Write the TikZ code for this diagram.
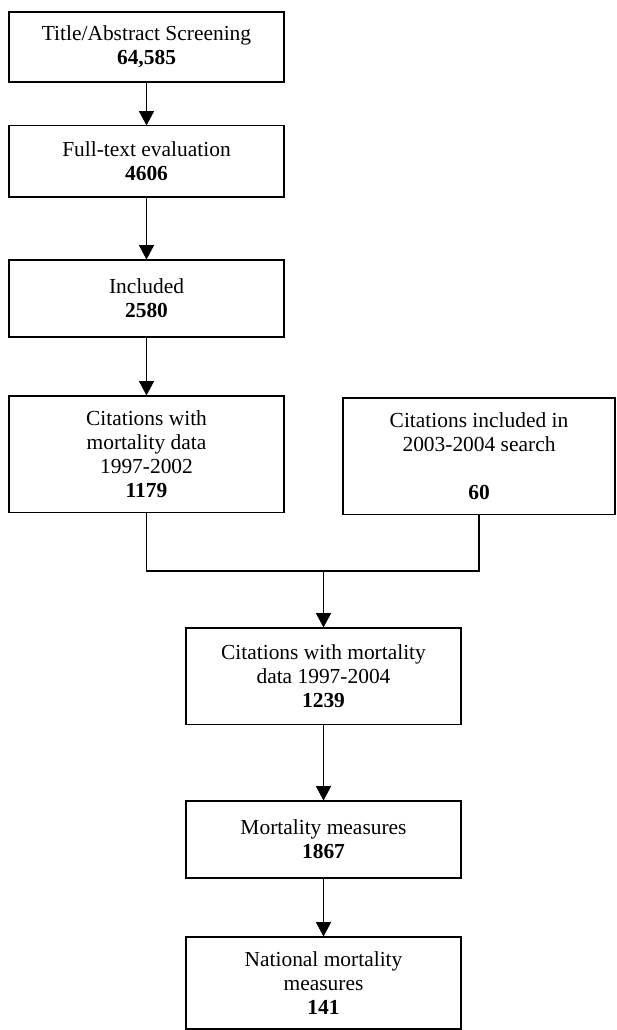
\documentclass[tikz,border=0pt]{standalone}
\usepackage{fontspec}
\setmainfont{Liberation Serif}
\usetikzlibrary{arrows.meta}
\begin{document}
\begin{tikzpicture}[x=0.56pt,y=-0.56pt,
  box/.style={draw=black,line width=0.6pt,align=center,inner sep=0pt,
    font=\fontsize{12}{13.5}\selectfont,minimum width=154pt},
  arr/.style={line width=0.6pt,-{Triangle[width=8.4pt,length=8pt]}},
  link/.style={line width=0.8pt}]
\useasboundingbox (0,0) rectangle (616,1030);
\node[box,minimum height=39.2pt] (b1) at (146.5,47) {Title/Abstract Screening\\\textbf{64,585}};
\node[box,minimum height=39.8pt] (b2) at (146.5,161.5) {Full-text evaluation\\\textbf{4606}};
\node[box,minimum height=43.1pt] (b3) at (146.5,298.5) {Included\\\textbf{2580}};
\node[box,minimum height=65pt] (b4) at (146.5,454) {Citations with\\mortality data\\1997-2002\\\textbf{1179}};
\node[box,minimum height=65pt,minimum width=152.3pt] (b5) at (479,456) {Citations included in\\2003-2004 search\\[13.5pt]\textbf{60}};
\node[box,minimum height=53.8pt] (b6) at (323.5,676) {Citations with mortality\\data 1997-2004\\\textbf{1239}};
\node[box,minimum height=43.1pt] (b7) at (323.5,839.5) {Mortality measures\\\textbf{1867}};
\node[box,minimum height=51.5pt] (b8) at (323.5,983) {National mortality\\measures\\\textbf{141}};
\coordinate (m) at (323.5,571);
\draw[arr] (b1) -- (b2);
\draw[arr] (b2) -- (b3);
\draw[arr] (b3) -- (b4);
\draw[link] (b4.south) -- (b4.south |- m) -- (b5.south |- m) -- (b5.south);
\draw[arr,line width=0.9pt] (m) -- (b6.north);
\draw[arr] (b6) -- (b7);
\draw[arr] (b7) -- (b8);
\end{tikzpicture}
\end{document}
